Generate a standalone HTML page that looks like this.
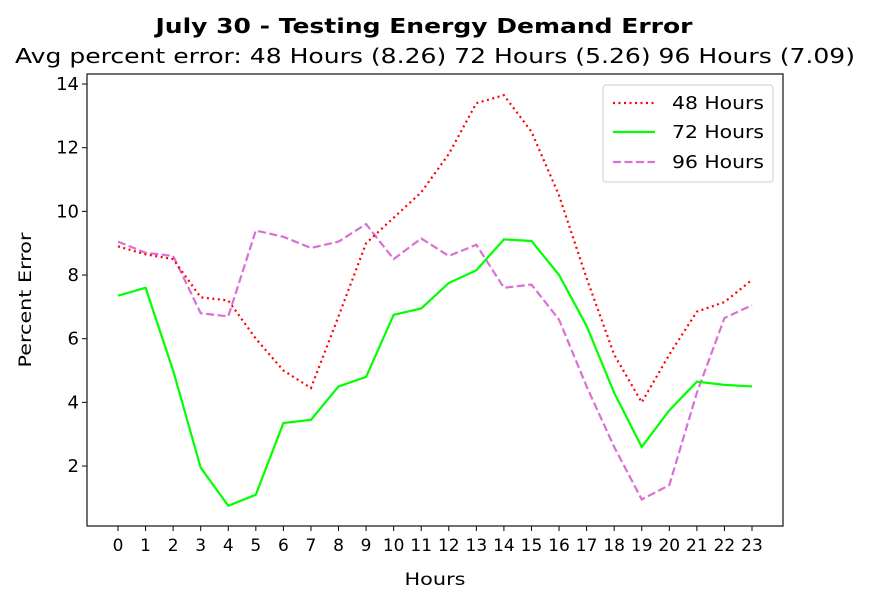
<!DOCTYPE html>
<html><head><meta charset="utf-8"><style>
body{margin:0;background:#fff;font-family:"DejaVu Sans","Liberation Sans",sans-serif}
svg text{font-family:"DejaVu Sans","Liberation Sans",sans-serif}
</style></head><body>
<svg id="chart" width="870" height="605" xmlns="http://www.w3.org/2000/svg">
<rect width="870" height="605" fill="#fff"/>
<text x="424" y="33" text-anchor="middle" font-size="20" font-weight="bold" textLength="537" lengthAdjust="spacingAndGlyphs">July 30 - Testing Energy Demand Error</text>
<text x="435" y="63" text-anchor="middle" font-size="20" textLength="840" lengthAdjust="spacingAndGlyphs">Avg percent error: 48 Hours (8.26) 72 Hours (5.26) 96 Hours (7.09)</text>
<g id="axes"></g>
<g id="series"></g>
<rect x="87" y="74" width="696" height="452" fill="none" stroke="#222" stroke-width="1.3"/>
<text x="435" y="585" text-anchor="middle" font-size="17" textLength="61" lengthAdjust="spacingAndGlyphs">Hours</text>
<text transform="translate(31,300) rotate(-90)" text-anchor="middle" font-size="17" textLength="135" lengthAdjust="spacingAndGlyphs">Percent Error</text>
<g>
<rect x="603" y="85" width="170" height="97" rx="3" fill="#fff" stroke="#ccc"/>
<line x1="613" y1="103" x2="655" y2="103" stroke="#f00" stroke-width="2.2" stroke-dasharray="2,3.5"/>
<text x="672" y="109" font-size="17.5" textLength="92" lengthAdjust="spacingAndGlyphs">48 Hours</text>
<line x1="613" y1="132" x2="655" y2="132" stroke="#00ff00" stroke-width="2.2"/>
<text x="672" y="138" font-size="17.5" textLength="92" lengthAdjust="spacingAndGlyphs">72 Hours</text>
<line x1="613" y1="162" x2="655" y2="162" stroke="#da70d6" stroke-width="2.2" stroke-dasharray="8,3.5"/>
<text x="672" y="168" font-size="17.5" textLength="92" lengthAdjust="spacingAndGlyphs">96 Hours</text>
</g>
</svg>
<script>
const hours=[0,1,2,3,4,5,6,7,8,9,10,11,12,13,14,15,16,17,18,19,20,21,22,23];
const s48=[8.9,8.65,8.5,7.3,7.2,6.0,5.0,4.45,6.7,9.0,9.8,10.6,11.8,13.4,13.65,12.5,10.5,7.9,5.5,4.0,5.5,6.85,7.15,7.85];
const s72=[7.35,7.6,5.0,1.95,0.75,1.1,3.35,3.45,4.5,4.8,6.75,6.95,7.75,8.15,9.12,9.07,8.0,6.4,4.3,2.6,3.75,4.65,4.55,4.5];
const s96=[9.05,8.7,8.6,6.8,6.7,9.4,9.2,8.85,9.05,9.6,8.5,9.15,8.6,8.95,7.6,7.7,6.6,4.5,2.6,0.95,1.4,4.3,6.65,7.05];
const yTicks=[2,4,6,8,10,12,14];
const NS="http://www.w3.org/2000/svg";
const xs=h=>118+h*(634/23);
const ys=v=>529.7-v*(382/12);
const ax=document.getElementById('axes'), sg=document.getElementById('series');
function mk(tag,attrs,parent){const e=document.createElementNS(NS,tag);for(const k in attrs)e.setAttribute(k,attrs[k]);parent.appendChild(e);return e;}
hours.forEach(h=>{
  const l=mk('line',{x1:xs(h),x2:xs(h),y1:526,y2:531,stroke:'#000'},ax);
  
  
  const t=mk('text',{x:xs(h),y:551,'text-anchor':'middle','font-size':17},ax);
  t.textContent=h;
  
  
});
yTicks.forEach(v=>{
  const l=mk('line',{x1:82,x2:87,y1:ys(v),y2:ys(v),stroke:'#000'},ax);
  
  
  const t=mk('text',{x:79,y:ys(v)+6,'text-anchor':'end','font-size':18},ax);
  t.textContent=v;
  
  
});
function line(data,color,dash,name){
  const p=mk('polyline',{points:data.map((v,i)=>xs(hours[i])+','+ys(v)).join(' '),fill:'none',stroke:color,'stroke-width':2.2,'stroke-dasharray':dash},sg);
  
  
}
line(s96,'#da70d6','8,3.5','series-96-hours');
line(s72,'#00ff00','none','series-72-hours');
line(s48,'#f00','2,3.5','series-48-hours');
</script>
</body></html>
